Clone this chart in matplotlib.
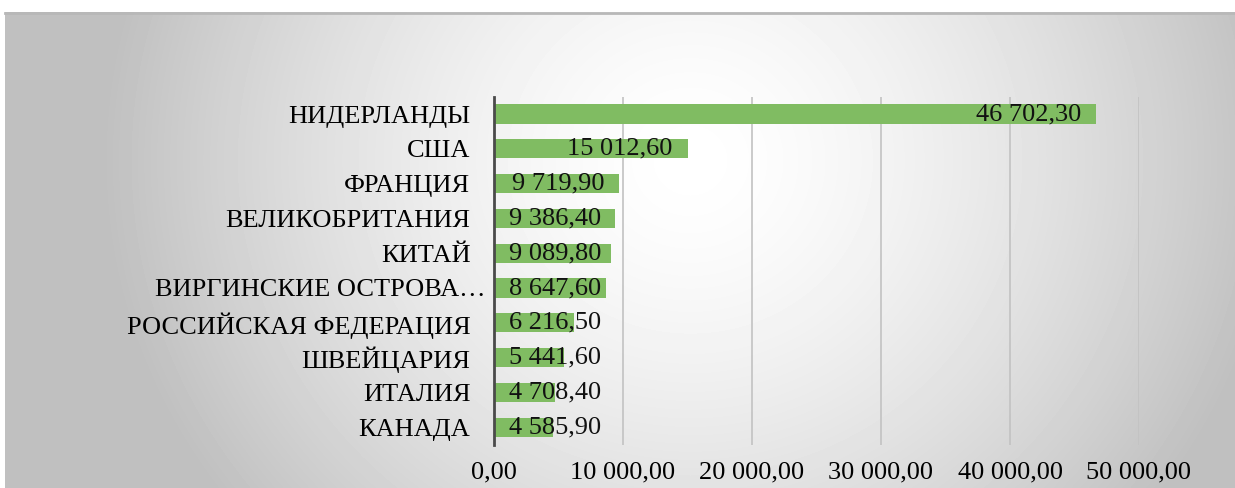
import numpy as np
import matplotlib.pyplot as plt
from matplotlib import font_manager

# fail loudly if the serif face is missing instead of silently falling back
font_manager.findfont('Liberation Serif', fallback_to_default=False)
plt.rcParams['font.family'] = ['Liberation Serif', 'DejaVu Serif']

countries = ['НИДЕРЛАНДЫ', 'США', 'ФРАНЦИЯ', 'ВЕЛИКОБРИТАНИЯ', 'КИТАЙ',
             'ВИРГИНСКИЕ ОСТРОВА…', 'РОССИЙСКАЯ ФЕДЕРАЦИЯ', 'ШВЕЙЦАРИЯ',
             'ИТАЛИЯ', 'КАНАДА']
values = [46702.30, 15012.60, 9719.90, 9386.40, 9089.80,
          8647.60, 6216.50, 5441.60, 4708.40, 4585.90]
x_ticks = [0, 10000, 20000, 30000, 40000, 50000]

W, H = 1235, 488
BAR_COLOR = '#80bc62'
FONT_SIZE = 19


def fmt(v):
    # 46702.3 -> "46 702,30"
    return f'{v:,.2f}'.replace(',', ' ').replace('.', ',')


fig = plt.figure(figsize=(W / 100, H / 100), dpi=100)

# background: grey radial fill with a white strip on top/left
bg = fig.add_axes([0, 0, 1, 1], zorder=-2)
yy, xx = np.mgrid[0:H, 0:W]
t = np.sqrt(((xx - 690) / 590.0) ** 2 + ((yy - 160) / 560.0) ** 2)
shade = 1.0 - 0.25 * np.clip(t, 0, 1) ** 1.5
shade[:12, :] = 1.0
shade[:, :5] = 1.0
bg.imshow(shade, cmap='gray', vmin=0, vmax=1, extent=(0, W, H, 0), aspect='auto')
bg.plot([5, W], [12.5, 12.5], color='#b8b8b8', lw=2)
bg.set_xlim(0, W)
bg.set_ylim(H, 0)
bg.axis('off')

ax = fig.add_axes([494 / W, 1 - 444.6 / H, (1139 - 494) / W, (444.6 - 96.6) / H])
ax.set_facecolor('none')

ypos = np.arange(len(countries))
ax.barh(ypos, values, height=0.55, color=BAR_COLOR, zorder=2)

ax.set_xlim(0, 50000)
ax.set_ylim(len(countries) - 0.5, -0.5)
ax.set_xticks(x_ticks)
ax.set_xticklabels([fmt(v) for v in x_ticks], fontsize=FONT_SIZE)

# the truncated name keeps its words aligned with the others, the ellipsis hangs over
ax.set_yticks(ypos)
tick_names = [c if not c.endswith('…') else '' for c in countries]
ax.set_yticklabels(tick_names, fontsize=FONT_SIZE)
for y, c in zip(ypos, countries):
    if c.endswith('…'):
        ax.annotate(c, xy=(0, y), xytext=(-6, 0), textcoords='offset points',
                    ha='right', va='center_baseline', fontsize=FONT_SIZE,
                    annotation_clip=False)

ax.tick_params(axis='both', length=0)
ax.tick_params(axis='y', pad=17)
ax.tick_params(axis='x', pad=12)

ax.grid(axis='x', color='#c2c2c2', lw=1.2, zorder=1)
for side in ['top', 'right', 'bottom']:
    ax.spines[side].set_visible(False)
ax.spines['left'].set_color('#4a4a4a')
ax.spines['left'].set_linewidth(2)
ax.spines['left'].set_zorder(3)

# value labels: inside the bar end, or from the base if the bar is too short
pad = 11
labels = []
for y, v in zip(ypos, values):
    a = ax.annotate(fmt(v), xy=(v, y), xytext=(-pad, 0), textcoords='offset points',
                    ha='right', va='center', fontsize=FONT_SIZE, color='#111111', zorder=4)
    labels.append(a)

fig.canvas.draw()
renderer = fig.canvas.get_renderer()
base_px = ax.transData.transform((0, 0))[0]
for a, y in zip(labels, ypos):
    box = a.get_window_extent(renderer)
    if box.x0 < base_px + pad * 100 / 72:
        a.xy = (0, y)
        a.set_position((pad, 0))
        a.set_ha('left')

fig.savefig('out.png', dpi=100)
